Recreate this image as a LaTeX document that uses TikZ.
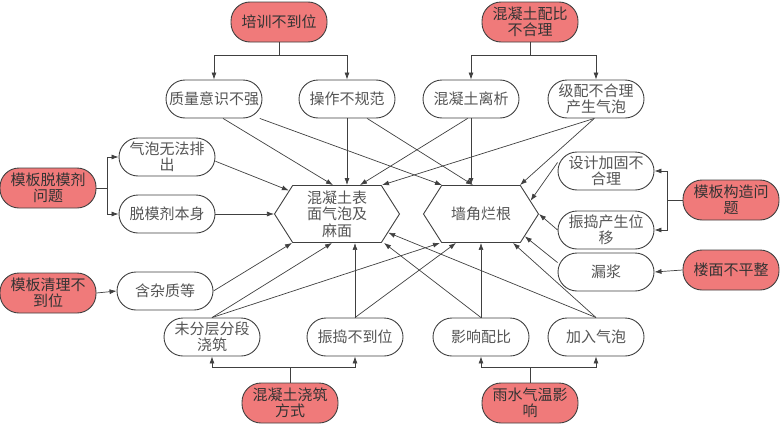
\documentclass[tikz,border=0pt]{standalone}
\usepackage{fontspec}
\newfontfamily\cjk{Noto Sans CJK SC}
\usetikzlibrary{shapes.symbols,calc,arrows.meta}
\definecolor{saumon}{RGB}{240,122,122}
\definecolor{trait}{RGB}{64,64,64}
\definecolor{texte}{RGB}{85,85,85}

\begin{document}
\begin{tikzpicture}[x=1pt,y=-1pt,>={Latex[length=7pt,width=5pt]},
  cause/.style={rectangle,rounded corners=19pt,draw=trait,line width=0.9pt,fill=saumon,
    minimum width=96pt,minimum height=40pt,inner sep=1pt,align=center,
    font=\cjk\fontsize{15}{16.5}\selectfont,text=black!80},
  sous/.style={cause,fill=white,minimum height=38pt,text=texte},
  hexa/.style={signal,signal to=east and west,signal pointer angle=115,draw=trait,
    line width=0.9pt,minimum height=57pt,inner sep=1pt,align=center,
    font=\cjk\fontsize{15}{16.5}\selectfont,text=texte},
  fl/.style={->,draw=trait,line width=0.7pt}]
\useasboundingbox (0,0) rectangle (781,423);

% causes
\node [cause] (peixun) at (279,22) {培训不到位};
\node [cause] (peibi) at (530,22) {混凝土配比\\不合理};
\node [cause] (tuomo) at (48,188) {模板脱模剂\\问题};
\node [cause] (qingli) at (48,293) {模板清理不\\到位};
\node [cause] (gouzao) at (731,200) {模板构造问\\题};
\node [cause] (loumian) at (731,270) {楼面不平整};
\node [cause] (jiaozhu) at (290,403) {混凝土浇筑\\方式};
\node [cause] (yushui) at (530,403) {雨水气温影\\响};

\node [sous] (zhiliang) at (214,99) {质量意识不强};
\node [sous] (caozuo) at (347,99) {操作不规范};
\node [sous] (lixi) at (471,99) {混凝土离析};
\node [sous] (jipei) at (596,99) {级配不合理\\产生气泡};
\node [sous] (qipao) at (167,157) {气泡无法排\\出};
\node [sous] (tuomoji) at (167,214) {脱模剂本身};
\node [sous] (zazhi) at (165,291) {含杂质等};
\node [sous] (sheji) at (606,171) {设计加固不\\合理};
\node [sous] (weiyi) at (606,230) {振捣产生位\\移};
\node [sous] (loujiang) at (606,272) {漏浆};
\node [sous] (fenceng) at (212,337) {未分层分段\\浇筑};
\node [sous] (zhendao) at (355,337) {振捣不到位};
\node [sous] (yingxiang) at (481,337) {影响配比};
\node [sous] (jiaru) at (596,337) {加入气泡};

% defauts
\node [hexa,minimum width=125pt] (mamian) at (337,214) {混凝土表\\面气泡及\\麻面};
\node [hexa,minimum width=115pt] (langen) at (481,214) {墙角烂根};

\draw [fl] (peixun.south) -- ++(0,13) -| (zhiliang.north);
\draw [fl] (peixun.south) -- ++(0,13) -| (caozuo.north);
\draw [fl] (peibi.south) -- ++(0,13) -| (lixi.north);
\draw [fl] (peibi.south) -- ++(0,13) -| (jipei.north);
\draw [fl] (tuomo.east) -- ++(11,0) |- (qipao.west);
\draw [fl] (tuomo.east) -- ++(11,0) |- (tuomoji.west);
\draw [fl] (qingli.east) -- (zazhi.west);
\draw [fl] (gouzao.west) -- ++(-15,0) |- (sheji.east);
\draw [fl] (gouzao.west) -- ++(-15,0) |- (weiyi.east);
\draw [fl] (loumian.west) -- (loujiang.east);
\draw [fl] (jiaozhu.north) -- ++(0,-15) -| (fenceng.south);
\draw [fl] (jiaozhu.north) -- ++(0,-15) -| (zhendao.south);
\draw [fl] (yushui.north) -- ++(0,-15) -| (yingxiang.south);
\draw [fl] (yushui.north) -- ++(0,-15) -| (jiaru.south);

\draw [fl] (zhiliang.-65) -- ($(mamian.north)+(-4,0)$);
\draw [fl] (zhiliang.-23) -- ($(langen.north)+(-39,0)$);
\draw [fl] (caozuo.south) -- (caozuo.south |- mamian.north);
\draw [fl] (caozuo.-44) -- ($(langen.north)+(-8,0)$);
\draw [fl] (lixi.-100) -- ($(mamian.north)+(23,0)$);
\draw [fl] (lixi.south) -- (lixi.south |- langen.north);
\draw [fl] (jipei.-95) -- ($(mamian.north)+(45,0)$);
\draw [fl] (jipei.-95) -- ($(langen.north)+(39,0)$);
\draw [fl] (qipao.-5) -- (mamian.154);
\draw [fl] (tuomoji.east) -- (mamian.west);
\draw [fl] (zazhi.east) -- ($(mamian.south)+(-45,0)$);
\draw [fl] (fenceng.north) -- ($(mamian.south)+(-5,0)$);
\draw [fl] (fenceng.north) -- ($(langen.south)+(-41,0)$);
\draw [fl] (zhendao.north) -- (zhendao.north |- mamian.south);
\draw [fl] (zhendao.north) -- ($(langen.south)+(-25,0)$);
\draw [fl] (yingxiang.north) -- ($(mamian.south)+(47,0)$);
\draw [fl] (yingxiang.north) -- (langen.south);
\draw [fl] (jiaru.north) -- (mamian.-20);
\draw [fl] (jiaru.north) -- ($(langen.south)+(32,0)$);
\draw [fl] (sheji.170) -- (langen.15);
\draw [fl] (weiyi.west) -- (langen.east);
\draw [fl] (loujiang.169) -- (langen.-27);
\end{tikzpicture}
\end{document}
